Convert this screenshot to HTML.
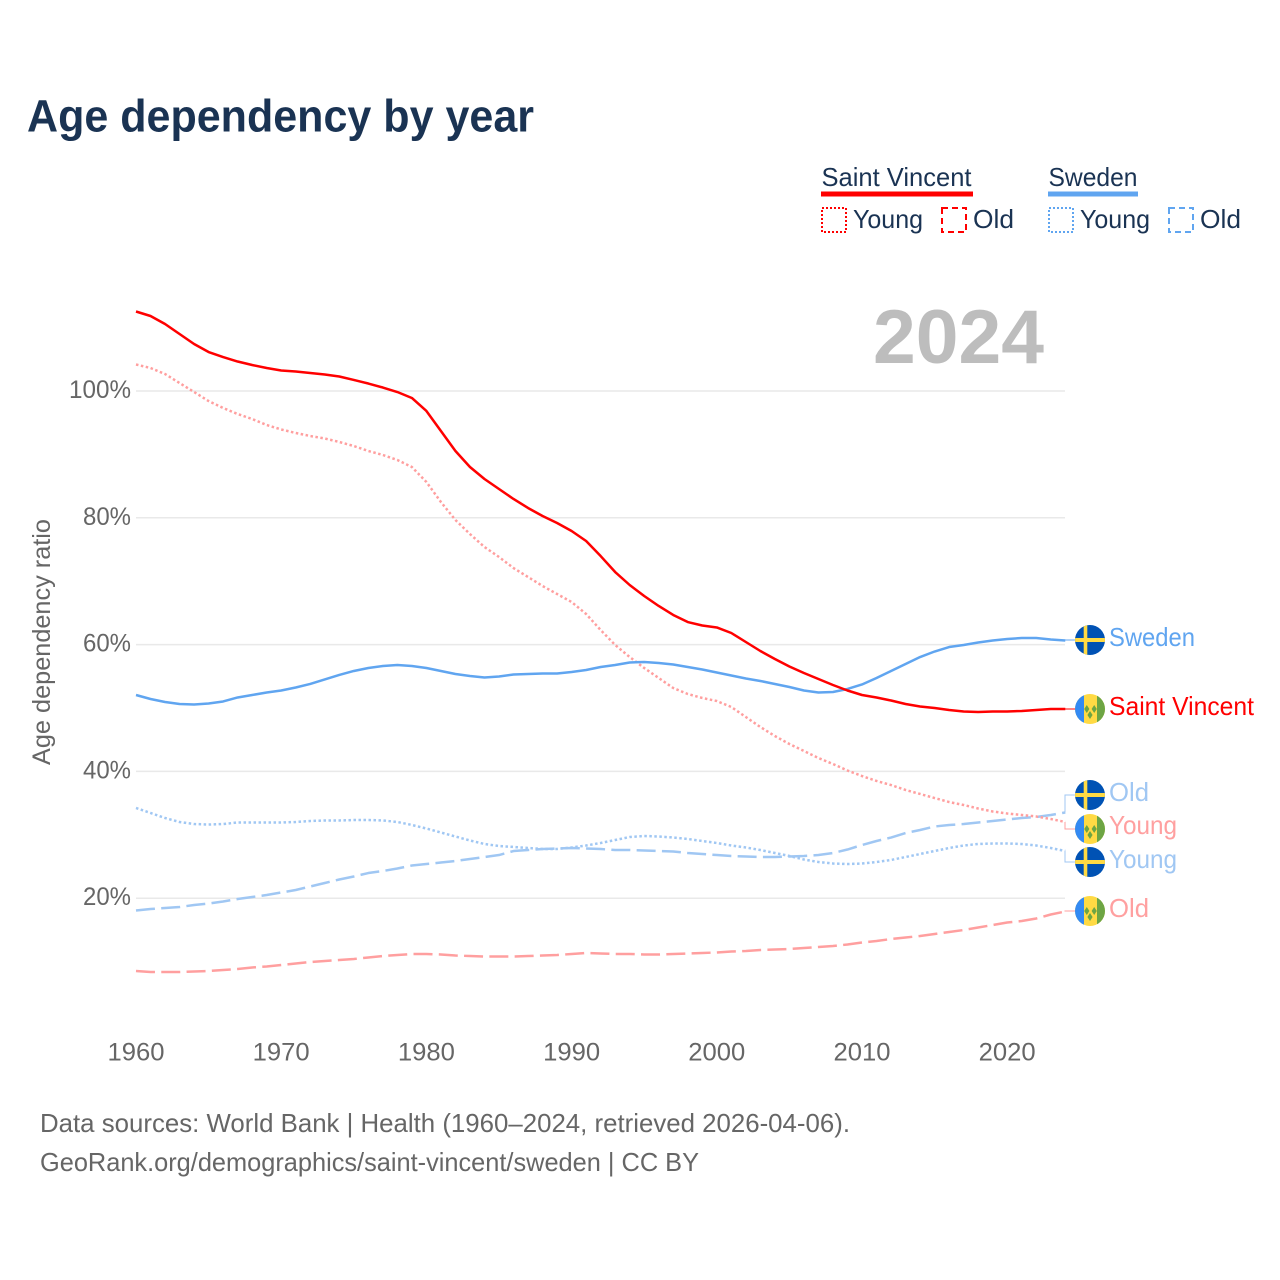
<!DOCTYPE html>
<html lang="en">
<head>
<meta charset="utf-8">
<title>Age dependency by year</title>
<style>
html,body{margin:0;padding:0;background:#fff;width:1280px;height:1280px;overflow:hidden}
svg{display:block}
text{font-family:"Liberation Sans",sans-serif}
</style>
</head>
<body>
<svg id="chart" xmlns="http://www.w3.org/2000/svg" width="1280" height="1280" viewBox="0 0 1280 1280">
  <defs>
    <clipPath id="flag-clip-se"><circle cx="15" cy="15" r="15"/></clipPath>
    <clipPath id="flag-clip-vc"><circle cx="15" cy="15" r="15"/></clipPath>
    <g id="flag-se">
      <g clip-path="url(#flag-clip-se)">
        <rect width="30" height="30" fill="#0052b4"/>
        <rect x="8.7" width="3.6" height="30" fill="#ffda44"/>
        <rect y="13" width="30" height="4" fill="#ffda44"/>
      </g>
    </g>
    <g id="flag-vc">
      <g clip-path="url(#flag-clip-vc)">
        <rect width="30" height="30" fill="#ffda44"/>
        <rect width="9" height="30" fill="#338af3"/>
        <rect x="22" width="8" height="30" fill="#6da544"/>
        <path d="M9.2 15l2.6-4 2.6 4-2.6 4zM16.6 15l2.6-4 2.6 4-2.6 4zM12.4 21l2.6-4 2.6 4-2.6 4z" fill="#6da544"/>
      </g>
    </g>
  </defs>

  <text x="27" y="131.5" font-size="45" font-weight="700" fill="#1a3353" textLength="507" lengthAdjust="spacingAndGlyphs">Age dependency by year</text>

  <g font-size="26" fill="#1a3353">
    <text x="821.5" y="186" textLength="150" lengthAdjust="spacingAndGlyphs">Saint Vincent</text>
    <rect x="821" y="191.5" width="152" height="5" fill="#ff0000"/>
    <text x="1048.5" y="186" textLength="89" lengthAdjust="spacingAndGlyphs">Sweden</text>
    <rect x="1048" y="191.5" width="90" height="5" fill="#60a5f0"/>
    <rect x="822" y="208" width="24" height="24" fill="none" stroke="#ff0000" stroke-width="2" stroke-dasharray="2 2"/>
    <text x="853" y="228" textLength="70" lengthAdjust="spacingAndGlyphs">Young</text>
    <rect x="942" y="208" width="24" height="24" fill="none" stroke="#ff0000" stroke-width="2" stroke-dasharray="6 4"/>
    <text x="973" y="228" textLength="41" lengthAdjust="spacingAndGlyphs">Old</text>
    <rect x="1049" y="208" width="24" height="24" fill="none" stroke="#60a5f0" stroke-width="2" stroke-dasharray="2 2"/>
    <text x="1080" y="228" textLength="70" lengthAdjust="spacingAndGlyphs">Young</text>
    <rect x="1169" y="208" width="24" height="24" fill="none" stroke="#60a5f0" stroke-width="2" stroke-dasharray="6 4"/>
    <text x="1200" y="228" textLength="41" lengthAdjust="spacingAndGlyphs">Old</text>
  </g>

  <text x="873" y="363" font-size="76" font-weight="700" fill="#bdbdbd" textLength="171" lengthAdjust="spacingAndGlyphs">2024</text>

  <text transform="translate(50,765) rotate(-90)" font-size="25" fill="#666666" textLength="246" lengthAdjust="spacingAndGlyphs">Age dependency ratio</text>

  <g id="gridlines"></g>
  <g id="y-ticks"></g>
  <g id="x-ticks"></g>
  <g id="series"></g>

  <g>
    <use href="#flag-se" x="1075" y="625"/>
    <text x="1109" y="646" font-size="26" fill="#60a5f0" textLength="86" lengthAdjust="spacingAndGlyphs">Sweden</text>
    <use href="#flag-vc" x="1075" y="694"/>
    <text x="1109" y="715" font-size="26" fill="#ff0000" textLength="145" lengthAdjust="spacingAndGlyphs">Saint Vincent</text>
    <use href="#flag-se" x="1075" y="780"/>
    <text x="1109" y="801" font-size="26" fill="#a0c7f3" textLength="40" lengthAdjust="spacingAndGlyphs">Old</text>
    <use href="#flag-vc" x="1075" y="814"/>
    <text x="1109" y="834" font-size="26" fill="#ffa0a0" textLength="68" lengthAdjust="spacingAndGlyphs">Young</text>
    <use href="#flag-se" x="1075" y="847"/>
    <text x="1109" y="868" font-size="26" fill="#a0c7f3" textLength="68" lengthAdjust="spacingAndGlyphs">Young</text>
    <use href="#flag-vc" x="1075" y="896"/>
    <text x="1109" y="917" font-size="26" fill="#ffa0a0" textLength="40" lengthAdjust="spacingAndGlyphs">Old</text>
  </g>

  <text x="40" y="1132" font-size="26" fill="#666666" textLength="810" lengthAdjust="spacingAndGlyphs">Data sources: World Bank | Health (1960–2024, retrieved 2026-04-06).</text>
  <text x="40" y="1171" font-size="26" fill="#666666" textLength="659" lengthAdjust="spacingAndGlyphs">GeoRank.org/demographics/saint-vincent/sweden | CC BY</text>
</svg>
<script>
const firstYear = 1960;
const xTickLabels = [1960, 1970, 1980, 1990, 2000, 2010, 2020];
const yTickLabels = [20, 40, 60, 80, 100];

const saintVincentTotal = [112.54,111.83,110.57,108.99,107.41,106.15,105.36,104.65,104.10,103.63,103.23,103.08,102.84,102.60,102.29,101.74,101.18,100.55,99.84,98.90,96.85,93.69,90.54,88.01,86.12,84.54,82.97,81.55,80.28,79.18,77.92,76.34,73.97,71.45,69.40,67.67,66.09,64.67,63.56,63.01,62.70,61.83,60.41,58.99,57.73,56.55,55.52,54.57,53.63,52.76,52.05,51.66,51.18,50.63,50.24,50.00,49.68,49.45,49.37,49.45,49.45,49.53,49.68,49.84,49.84];
const saintVincentYoung = [104.18,103.63,102.68,101.26,99.84,98.42,97.32,96.37,95.58,94.64,93.93,93.38,92.90,92.51,91.96,91.32,90.54,89.91,89.12,88.01,85.65,82.49,79.65,77.44,75.39,73.82,72.08,70.66,69.24,67.98,66.72,64.83,62.30,59.94,58.04,56.31,54.73,53.15,52.21,51.58,51.10,50.16,48.58,47.00,45.58,44.32,43.22,42.11,41.17,40.14,39.27,38.49,37.85,37.07,36.44,35.80,35.17,34.70,34.15,33.68,33.36,33.12,32.89,32.49,32.02];
const saintVincentOld = [8.52,8.36,8.36,8.36,8.44,8.52,8.68,8.83,9.07,9.23,9.46,9.70,9.94,10.09,10.25,10.41,10.65,10.88,11.04,11.20,11.20,11.12,10.96,10.88,10.80,10.80,10.80,10.88,10.96,11.04,11.20,11.36,11.28,11.20,11.20,11.12,11.12,11.20,11.28,11.36,11.44,11.59,11.67,11.83,11.91,11.99,12.15,12.30,12.46,12.70,13.01,13.25,13.56,13.80,14.04,14.35,14.67,14.98,15.38,15.77,16.17,16.40,16.80,17.43,17.90];
const swedenTotal = [52.05,51.42,50.95,50.63,50.55,50.71,51.03,51.66,52.05,52.44,52.76,53.23,53.79,54.50,55.21,55.84,56.31,56.62,56.78,56.62,56.31,55.84,55.36,55.05,54.81,54.97,55.28,55.36,55.44,55.44,55.68,55.99,56.47,56.78,57.18,57.26,57.10,56.86,56.47,56.07,55.60,55.13,54.65,54.26,53.79,53.31,52.76,52.44,52.52,53.00,53.71,54.73,55.84,56.94,58.04,58.91,59.62,59.94,60.33,60.65,60.88,61.04,61.04,60.80,60.65];
const swedenYoung = [34.23,33.44,32.65,32.02,31.70,31.62,31.70,31.94,31.94,31.94,31.94,32.02,32.18,32.26,32.26,32.33,32.33,32.26,32.02,31.55,30.99,30.36,29.73,29.10,28.55,28.23,28.08,27.92,27.76,27.76,28.00,28.31,28.71,29.18,29.65,29.81,29.73,29.57,29.34,29.02,28.71,28.31,28.00,27.60,27.13,26.66,26.10,25.71,25.47,25.39,25.47,25.71,26.03,26.50,26.97,27.44,27.92,28.31,28.55,28.63,28.63,28.55,28.31,27.92,27.44];
const swedenOld = [18.06,18.30,18.45,18.61,18.93,19.16,19.48,19.87,20.19,20.50,20.90,21.29,21.85,22.40,22.95,23.42,23.97,24.29,24.68,25.16,25.39,25.63,25.87,26.18,26.50,26.81,27.44,27.60,27.76,27.84,27.92,27.84,27.76,27.60,27.60,27.52,27.44,27.37,27.13,26.97,26.81,26.66,26.58,26.50,26.50,26.58,26.66,26.81,27.13,27.68,28.39,29.02,29.57,30.28,30.76,31.31,31.55,31.70,31.94,32.18,32.41,32.65,32.81,33.12,33.52];

const NS = 'http://www.w3.org/2000/svg';
function xScale(year) { return 136 + (year - firstYear) * 14.52; }
function yScale(value) { return 1025 - value * 6.34; }

const gridGroup = document.getElementById('gridlines');
const yGroup = document.getElementById('y-ticks');
const xGroup = document.getElementById('x-ticks');
const seriesGroup = document.getElementById('series');

yTickLabels.forEach(function (v) {
  const line = document.createElementNS(NS, 'line');
  
  
  line.setAttribute('x1', 136);
  line.setAttribute('x2', 1065);
  line.setAttribute('y1', yScale(v));
  line.setAttribute('y2', yScale(v));
  line.setAttribute('stroke', '#e9e9e9');
  line.setAttribute('stroke-width', '1.5');
  gridGroup.appendChild(line);

  const label = document.createElementNS(NS, 'text');
  
  
  label.setAttribute('x', v === 100 ? 69 : 83);
  label.setAttribute('y', yScale(v) + 7);
  label.setAttribute('font-size', '25');
  label.setAttribute('fill', '#666666');
  label.setAttribute('textLength', v === 100 ? 62 : 48);
  label.setAttribute('lengthAdjust', 'spacingAndGlyphs');
  label.textContent = v + '%';
  yGroup.appendChild(label);
});

xTickLabels.forEach(function (yr) {
  const label = document.createElementNS(NS, 'text');
  
  
  label.setAttribute('x', xScale(yr) - 28.5);
  label.setAttribute('y', 1060.5);
  label.setAttribute('font-size', '25');
  label.setAttribute('fill', '#666666');
  label.setAttribute('textLength', 57);
  label.setAttribute('lengthAdjust', 'spacingAndGlyphs');
  label.textContent = yr;
  xGroup.appendChild(label);
});

function drawSeries(values, name, color, width, dash) {
  const pts = values.map(function (v, i) { return xScale(firstYear + i).toFixed(2) + ',' + yScale(v).toFixed(2); }).join(' ');
  const line = document.createElementNS(NS, 'polyline');
  
  
  line.setAttribute('points', pts);
  line.setAttribute('fill', 'none');
  line.setAttribute('stroke', color);
  line.setAttribute('stroke-width', width);
  line.setAttribute('stroke-linejoin', 'round');
  if (dash) line.setAttribute('stroke-dasharray', dash);
  seriesGroup.appendChild(line);
}

function drawLeader(values, labelY, name, color) {
  const endY = yScale(values[values.length - 1]);
  const leader = document.createElementNS(NS, 'polyline');
  
  
  leader.setAttribute('points', '1065,' + endY.toFixed(2) + ' 1065,' + labelY + ' 1076,' + labelY);
  leader.setAttribute('fill', 'none');
  leader.setAttribute('stroke', color);
  leader.setAttribute('stroke-width', '1');
  seriesGroup.appendChild(leader);
}

drawSeries(saintVincentOld, 'line-saint-vincent-old', '#ff9f9f', 2.5, '19 6.3');
drawSeries(swedenOld, 'line-sweden-old', '#a0c7f3', 2.5, '19 6.3');
drawSeries(saintVincentYoung, 'line-saint-vincent-young', '#ff9f9f', 2.5, '2.5 2.5');
drawSeries(swedenYoung, 'line-sweden-young', '#a0c7f3', 2.5, '2.5 2.5');
drawSeries(swedenTotal, 'line-sweden-total', '#60a5f0', 2.5);
drawSeries(saintVincentTotal, 'line-saint-vincent-total', '#ff0000', 2.5);

drawLeader(swedenTotal, 640, 'leader-sweden-total', '#60a5f0');
drawLeader(saintVincentTotal, 709, 'leader-saint-vincent-total', '#ff0000');
drawLeader(swedenOld, 795, 'leader-sweden-old', '#a0c7f3');
drawLeader(saintVincentYoung, 829, 'leader-saint-vincent-young', '#ff9f9f');
drawLeader(swedenYoung, 862, 'leader-sweden-young', '#a0c7f3');
drawLeader(saintVincentOld, 911, 'leader-saint-vincent-old', '#ff9f9f');
</script>
</body>
</html>
